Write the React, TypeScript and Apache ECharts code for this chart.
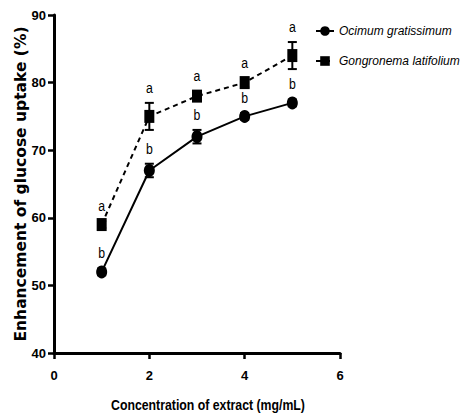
import React, { useEffect, useRef } from "react";
import * as echarts from "echarts";

const concentrations = [1, 2, 3, 4, 5];
const ocimumValues = [52, 67, 72, 75, 77];
const ocimumErrors = [0.5, 1, 1, 0.5, 0.5];
const ocimumLetters = ["b", "b", "b", "b", "b"];
const gongronemaValues = [59, 75, 78, 80, 84];
const gongronemaErrors = [0.5, 2, 0.7, 0.7, 2];
const gongronemaLetters = ["a", "a", "a", "a", "a"];
const seriesNames = ["Ocimum gratissimum", "Gongronema latifolium"];
const xTitle = "Concentration of extract (mg/mL)";
const yTitle = "Enhancement of glucose uptake (%)";

const SANS = '"Liberation Sans", Arial, Helvetica, sans-serif';

function errorSeries(values: number[], errors: number[], letters: string[]) {
  return {
    type: "custom",
    z: 2,
    silent: true,
    data: concentrations.map((c, i) => [c, values[i], errors[i]]),
    renderItem: (params: any, api: any) => {
      const x = api.value(0);
      const y = api.value(1);
      const e = api.value(2);
      const top = api.coord([x, y + e]);
      const bot = api.coord([x, y - e]);
      const hw = 4.5;
      const st = { stroke: "#000", lineWidth: 2 };
      return {
        type: "group",
        children: [
          { type: "line", shape: { x1: top[0], y1: top[1], x2: bot[0], y2: bot[1] }, style: st },
          { type: "line", shape: { x1: top[0] - hw, y1: top[1], x2: top[0] + hw, y2: top[1] }, style: st },
          { type: "line", shape: { x1: bot[0] - hw, y1: bot[1], x2: bot[0] + hw, y2: bot[1] }, style: st },
          {
            type: "text",
            x: top[0],
            y: top[1] - 15,
            scaleX: 0.82,
            style: {
              text: letters[params.dataIndex],
              font: `15px ${SANS}`,
              fill: "#000",
              align: "center",
              verticalAlign: "middle",
              textAlign: "center",
              textVerticalAlign: "middle",
            },
          },
        ],
      };
    },
  };
}

export default function App() {
  const ref = useRef<HTMLDivElement>(null);
  useEffect(() => {
    if (!ref.current) return;
    const chart = echarts.init(ref.current, undefined, { renderer: "svg" });
    const axisLabel = { color: "#000", fontFamily: SANS, fontWeight: "bold", fontSize: 13 };
    chart.setOption({
      animation: false,
      backgroundColor: "#fff",
      grid: { left: 54, right: 126, top: 15, bottom: 65 },
      legend: {
        orient: "vertical",
        left: 310,
        top: 20,
        itemWidth: 18,
        itemHeight: 12,
        itemGap: 18,
        textStyle: { color: "#000", fontFamily: SANS, fontStyle: "italic", fontSize: 12 },
        data: seriesNames,
      },
      graphic: [
        {
          type: "text",
          x: 208,
          y: 405,
          scaleX: 0.82,
          silent: true,
          style: {
            text: xTitle,
            font: `bold 15px ${SANS}`,
            fill: "#000",
            align: "center",
            verticalAlign: "middle",
            textAlign: "center",
            textVerticalAlign: "middle",
          },
        },
      ],
      xAxis: {
        type: "value",
        min: 0,
        max: 6,
        interval: 2,
        axisLine: { show: true, lineStyle: { color: "#000", width: 3 } },
        axisTick: { show: true, length: 6, lineStyle: { color: "#000", width: 2.5 } },
        axisLabel: { ...axisLabel, margin: 16 },
        splitLine: { show: false },
      },
      yAxis: {
        type: "value",
        min: 40,
        max: 90,
        interval: 10,
        name: yTitle,
        nameLocation: "middle",
        nameGap: 25,
        nameMoveOverlap: false,
        nameTextStyle: { color: "#000", fontFamily: '"DejaVu Sans", sans-serif', fontWeight: "bold", fontSize: 15.5 },
        axisLine: { show: true, lineStyle: { color: "#000", width: 3 } },
        axisTick: { show: true, length: 6, lineStyle: { color: "#000", width: 2.5 } },
        axisLabel: { ...axisLabel, margin: 8 },
        splitLine: { show: false },
      },
      series: [
        errorSeries(ocimumValues, ocimumErrors, ocimumLetters),
        errorSeries(gongronemaValues, gongronemaErrors, gongronemaLetters),
        {
          name: seriesNames[0],
          type: "line",
          z: 3,
          data: concentrations.map((c, i) => [c, ocimumValues[i]]),
          symbol: "circle",
          symbolSize: [11, 13],
          itemStyle: { color: "#000" },
          lineStyle: { color: "#000", width: 2 },
        },
        {
          name: seriesNames[1],
          type: "line",
          z: 3,
          data: concentrations.map((c, i) => [c, gongronemaValues[i]]),
          symbol: "rect",
          symbolSize: [10, 13],
          itemStyle: { color: "#000" },
          lineStyle: { color: "#000", width: 2, type: [5, 4] },
        },
      ],
    });
    return () => chart.dispose();
  }, []);
  return (
    <div
      ref={ref}
      style={{ position: "absolute", left: 0, top: 0, width: 466, height: 418 }}
    />
  );
}
